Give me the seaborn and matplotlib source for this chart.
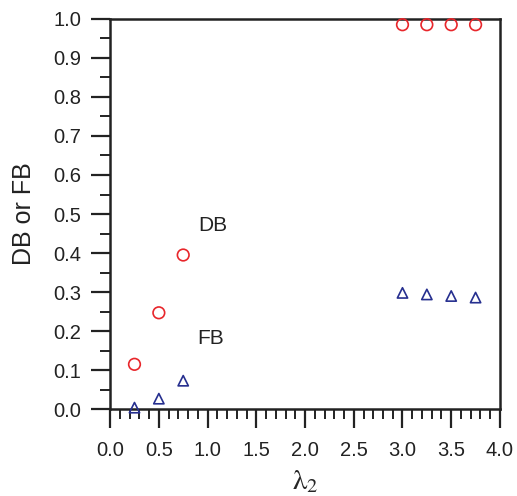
import matplotlib
matplotlib.use('Agg')
import matplotlib.pyplot as plt
from matplotlib.ticker import MultipleLocator
import seaborn as sns
import pandas as pd

# values
lam2 = [0.25, 0.5, 0.75, 3.0, 3.25, 3.5, 3.75]
db = [0.115, 0.247, 0.395, 0.985, 0.985, 0.985, 0.985]
fb = [0.004, 0.027, 0.073, 0.298, 0.294, 0.290, 0.286]

df = pd.DataFrame({'lam2': lam2, 'DB': db, 'FB': fb})

sns.set_style('white')
plt.rcParams['font.family'] = ['Liberation Sans', 'DejaVu Sans']
plt.rcParams['mathtext.fontset'] = 'stix'

fig = plt.figure(figsize=(5.17, 4.96), dpi=100)
ax = fig.add_axes([0.213, 0.175, 0.754, 0.787])

sns.scatterplot(data=df, x='lam2', y='DB', ax=ax, marker='o', s=70,
                facecolors='none', edgecolor='#e8262b', linewidth=1.2,
                clip_on=False, zorder=3)
sns.scatterplot(data=df, x='lam2', y='FB', ax=ax, marker='^', s=55,
                facecolors='none', edgecolor='#262f8f', linewidth=1.2,
                clip_on=False, zorder=3)

ax.text(1.05, 0.47, 'DB', fontsize=15, ha='center', va='center', color='#222222')
ax.text(1.03, 0.18, 'FB', fontsize=15, ha='center', va='center', color='#222222')

ax.set_xlim(0, 4.0)
ax.set_ylim(0, 1.0)
ax.xaxis.set_major_locator(MultipleLocator(0.5))
ax.xaxis.set_minor_locator(MultipleLocator(0.1))
ax.yaxis.set_major_locator(MultipleLocator(0.1))
ax.yaxis.set_minor_locator(MultipleLocator(0.05))
ax.xaxis.set_major_formatter(plt.FormatStrFormatter('%.1f'))
ax.yaxis.set_major_formatter(plt.FormatStrFormatter('%.1f'))

ax.tick_params(which='major', direction='out', length=14, width=1.6,
               labelsize=14.5, color='#222222', labelcolor='#222222',
               bottom=True, left=True)
ax.tick_params(which='minor', direction='out', length=7, width=1.4,
               color='#222222', bottom=True, left=True)
ax.tick_params(axis='x', which='major', pad=9)
ax.tick_params(axis='y', which='major', pad=7)

for sp in ax.spines.values():
    sp.set_linewidth(1.8)
    sp.set_color('#222222')

ax.set_xlabel(r'$\mathrm{\lambda}_{2}$', fontsize=21, labelpad=5)
ax.set_ylabel('DB or FB', fontsize=18, labelpad=12, color='#222222')

fig.savefig('out.png', dpi=100)
